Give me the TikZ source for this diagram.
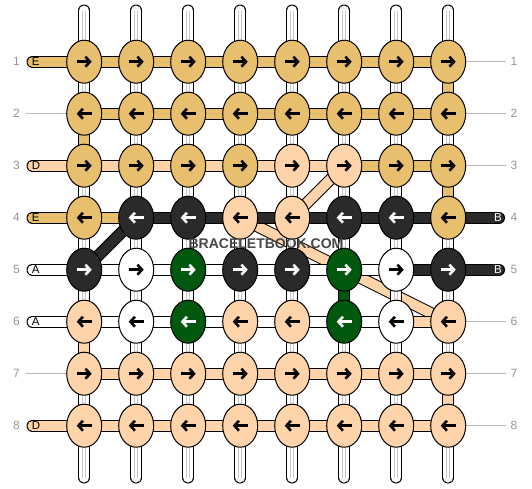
\documentclass[tikz,border=0pt]{standalone}
\usepackage{fontspec}
\setmainfont{Liberation Sans}
\usetikzlibrary{shapes.geometric,arrows.meta}

\definecolor{tan}{RGB}{232,191,110}
\definecolor{peach}{RGB}{255,212,170}
\definecolor{blk}{RGB}{42,42,42}
\definecolor{grn}{RGB}{0,88,14}
\definecolor{wht}{RGB}{255,255,255}
\colorlet{artan}{black}
\colorlet{arpeach}{black}
\colorlet{arwht}{black}
\colorlet{arblk}{white}
\colorlet{argrn}{white}

\tikzstyle{knot} = [ellipse, draw=black, line width=1pt, minimum width=35pt, minimum height=43pt, inner sep=0pt]
\tikzset{thread/.style={draw=black, line width=1pt, double=#1, double distance=10pt}}
\tikzstyle{warp} = [thread=white, line cap=round]
\tikzstyle{warpline} = [draw=black!22, line width=0.8pt, double=white, double distance=2.2pt]
\tikzstyle{guide} = [draw=black!28, line width=1pt]
\tikzstyle{rowno} = [text=black!42, font=\fontsize{12}{12}\selectfont]
\tikzstyle{tag} = [font=\fontsize{11.5}{11.5}\selectfont, inner sep=0pt]
\tikzstyle{arrow} = [line width=2.6pt, -{Straight Barb[length=4.5pt,width=10pt]}]

\begin{document}
\begin{tikzpicture}[x=1pt, y=-1pt]
    \useasboundingbox (0,0) rectangle (532,488);

    % grid points
    \foreach \r in {1,...,8} {
        \foreach \c in {1,...,8}
            \coordinate (p-\r-\c) at (32.2+52*\c, 9.7+52*\r);
        \coordinate (l-\r) at (32.5, 9.7+52*\r);
        \coordinate (r-\r) at (499, 9.7+52*\r);
        \coordinate (gl-\r) at (26, 9.7+52*\r);
        \coordinate (gr-\r) at (506, 9.7+52*\r);
    }
    \foreach \c in {1,...,8} {
        \coordinate (t-\c) at (32.2+52*\c, 10.5);
        \coordinate (b-\c) at (32.2+52*\c, 477.5);
    }

    % diagonal threads
    \draw[thread=blk] (p-5-1) -- (p-4-2);
    \draw[thread=peach] (p-4-5) -- (p-3-6);
    \draw[thread=peach] (p-4-4) -- (p-5-6) -- (p-6-8);

    % base strings
    \foreach \c in {1,...,8} {
        \draw[warp] (t-\c) -- (b-\c);
        \draw[warpline] (t-\c) -- (b-\c);
    }

    % working threads
    \foreach \r/\row in {1/{tan,tan,tan,tan,tan,tan,tan},
                         2/{tan,tan,tan,tan,tan,tan,tan},
                         3/{peach,peach,peach,peach,peach,tan,tan},
                         4/{tan,blk,blk,blk,blk,blk,blk},
                         5/{wht,wht,wht,wht,wht,wht,blk},
                         6/{wht,wht,wht,wht,wht,wht,peach},
                         7/{peach,peach,peach,peach,peach,peach,peach},
                         8/{peach,peach,peach,peach,peach,peach,peach}}
        \foreach \h [count=\c] in \row {
            \pgfmathtruncatemacro\n{\c+1}
            \draw[thread=\h] (p-\r-\c) -- (p-\r-\n);
        }

    \foreach \r/\h/\t in {1/tan/E, 3/peach/D, 4/tan/E, 5/wht/A, 6/wht/A, 8/peach/D} {
        \draw[thread=\h, line cap=round] (l-\r) -- (p-\r-1);
        \node[tag, anchor=west] (in-\r) at ([xshift=-0.8pt]l-\r) {\t};
    }
    \foreach \r in {4,5} {
        \draw[thread=blk, line cap=round] (p-\r-8) -- (r-\r);
        \node[tag, text=white, anchor=east] (out-\r) at ([xshift=3pt]r-\r) {B};
    }

    % threads carried down
    \foreach \r/\s/\c/\h in {1/2/8/tan, 2/3/1/tan, 3/4/8/tan, 5/6/6/grn, 6/7/1/peach, 7/8/8/peach}
        \draw[thread=\h] (p-\r-\c) -- (p-\s-\c);

    % row guides
    \foreach \r in {2,7}
        \draw[guide] (gl-\r) -- (p-\r-1);
    \foreach \r in {1,2,3,6,7,8}
        \draw[guide] (p-\r-8) -- (gr-\r);

    % knots
    \foreach \r/\a/\b/\row in {1/-7.5/7.5/{tan,tan,tan,tan,tan,tan,tan,tan},
                               2/7.5/-7.5/{tan,tan,tan,tan,tan,tan,tan,tan},
                               3/-7.5/7.5/{tan,tan,tan,tan,peach,peach,tan,tan},
                               4/7.5/-7.5/{tan,blk,blk,peach,peach,blk,blk,tan},
                               5/-7.5/7.5/{blk,wht,grn,blk,blk,grn,wht,blk},
                               6/7.5/-7.5/{peach,wht,grn,peach,peach,grn,wht,peach},
                               7/-7.5/7.5/{peach,peach,peach,peach,peach,peach,peach,peach},
                               8/7.5/-7.5/{peach,peach,peach,peach,peach,peach,peach,peach}}
        \foreach \k [count=\c] in \row {
            \node[knot, fill=\k] (k-\r-\c) at (p-\r-\c) {};
            \draw[arrow, draw=ar\k] ([xshift=\a pt]k-\r-\c.center) -- ([xshift=\b pt]k-\r-\c.center);
        }

    % row numbers
    \foreach \r in {1,...,8} {
        \node[rowno] (nl-\r) at (16.5, 9.7+52*\r) {\r};
        \node[rowno] (nr-\r) at (514, 9.7+52*\r) {\r};
    }

    \node[font=\bfseries\fontsize{14}{14}\selectfont, text=black!72] (mark) at (266,243.5) {BRACELETBOOK.COM};
\end{tikzpicture}
\end{document}
